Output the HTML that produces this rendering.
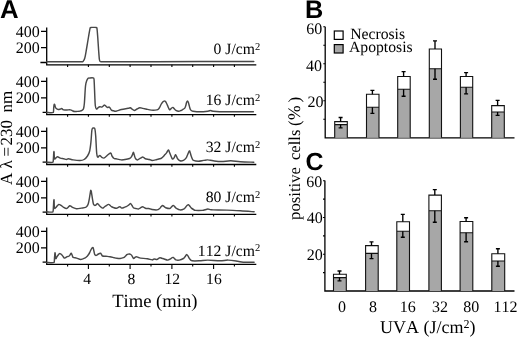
<!DOCTYPE html>
<html><head><meta charset="utf-8"><title>Figure</title>
<style>html,body{margin:0;padding:0;background:#fff;overflow:hidden;}svg{display:block;font-kerning:none;will-change:transform;}text{font-kerning:none;text-rendering:geometricPrecision;}</style>
</head><body>
<svg width="520" height="338" viewBox="0 0 520 338">
<rect width="520" height="338" fill="#fff"/>
<g font-family="Liberation Sans, sans-serif" font-weight="bold" font-size="25.3" fill="#000">
<text x="0.1" y="17.5" font-size="25.8">A</text>
<text x="305.1" y="17.5">B</text>
<text x="305.4" y="169.9" font-size="24.9">C</text>
</g>
<g stroke="#000" stroke-width="1.3" fill="none">
<path d="M46.7,27.4 V64.8 H256.3"/>
<path d="M41.0,31.3 H46.7 M41.0,47.7 H46.7 M40.4,62.5 H46.7"/>
<path d="M67.6,64.8 v2.2 M88.4,64.8 v2.2 M109.3,64.8 v2.2 M130.1,64.8 v2.2 M151.0,64.8 v2.2 M171.9,64.8 v2.2 M192.7,64.8 v2.2 M213.6,64.8 v2.2 M234.4,64.8 v2.2 " stroke-width="1.1"/>
<path d="M46.7,77.5 V114.6 H256.3"/>
<path d="M41.0,81.4 H46.7 M41.0,97.8 H46.7 M42.6,112.3 H46.7"/>
<path d="M67.6,114.6 v2.2 M88.4,114.6 v2.2 M109.3,114.6 v2.2 M130.1,114.6 v2.2 M151.0,114.6 v2.2 M171.9,114.6 v2.2 M192.7,114.6 v2.2 M213.6,114.6 v2.2 M234.4,114.6 v2.2 " stroke-width="1.1"/>
<path d="M46.7,127.5 V164.5 H256.3"/>
<path d="M41.0,131.4 H46.7 M41.0,147.8 H46.7 M42.6,162.2 H46.7"/>
<path d="M67.6,164.5 v2.2 M88.4,164.5 v2.2 M109.3,164.5 v2.2 M130.1,164.5 v2.2 M151.0,164.5 v2.2 M171.9,164.5 v2.2 M192.7,164.5 v2.2 M213.6,164.5 v2.2 M234.4,164.5 v2.2 " stroke-width="1.1"/>
<path d="M46.7,177.5 V214.4 H256.3"/>
<path d="M41.0,181.4 H46.7 M41.0,197.8 H46.7 M42.6,212.1 H46.7"/>
<path d="M67.6,214.4 v2.2 M88.4,214.4 v2.2 M109.3,214.4 v2.2 M130.1,214.4 v2.2 M151.0,214.4 v2.2 M171.9,214.4 v2.2 M192.7,214.4 v2.2 M213.6,214.4 v2.2 M234.4,214.4 v2.2 " stroke-width="1.1"/>
<path d="M46.7,227.5 V264.4 H256.3"/>
<path d="M41.0,231.4 H46.7 M41.0,247.8 H46.7 M42.6,262.1 H46.7"/>
<path d="M67.6,264.4 v2.2 M88.4,264.4 v4.6 M109.3,264.4 v2.2 M130.1,264.4 v4.6 M151.0,264.4 v2.2 M171.9,264.4 v4.6 M192.7,264.4 v2.2 M213.6,264.4 v4.6 M234.4,264.4 v2.2 " stroke-width="1.1"/>
</g>
<g stroke="#484848" stroke-width="1.45" fill="none" stroke-linejoin="round" stroke-linecap="round">
<path d="M46.70,61.80 C52.42,61.80 74.92,61.90 81.00,61.80 C83.20,61.70 82.57,61.83 83.20,61.20 C83.83,60.57 84.25,60.03 84.80,58.00 C85.35,55.97 85.88,52.50 86.50,49.00 C87.12,45.50 87.92,40.40 88.50,37.00 C89.08,33.60 89.63,30.18 90.00,28.60 C90.37,27.02 90.43,27.70 90.70,27.50 C90.97,27.30 90.82,27.42 91.60,27.40 C92.38,27.38 94.62,27.38 95.40,27.40 C96.18,27.42 96.03,27.30 96.30,27.50 C96.57,27.70 96.75,26.85 97.00,28.60 C97.25,30.35 97.53,34.43 97.80,38.00 C98.07,41.57 98.33,46.42 98.60,50.00 C98.87,53.58 99.12,57.58 99.40,59.50 C99.68,61.42 99.95,61.12 100.30,61.50 C100.65,61.88 100.30,61.77 101.50,61.80 C109.78,61.83 133.58,61.75 150.00,61.70 C166.42,61.65 182.70,61.55 200.00,61.50 C217.30,61.45 244.83,61.42 253.80,61.40"/>
<path d="M46.70,112.40 C47.80,112.40 52.13,113.13 53.30,112.40 C53.70,111.67 53.57,109.30 53.70,108.00 C53.83,106.70 53.93,105.17 54.10,104.60 C54.27,104.03 54.50,104.20 54.70,104.60 C54.90,105.00 55.05,106.35 55.30,107.00 C55.55,107.65 55.70,108.08 56.20,108.50 C56.70,108.92 57.67,109.38 58.30,109.50 C58.93,109.62 59.43,109.37 60.00,109.20 C60.57,109.03 61.25,108.48 61.70,108.50 C62.15,108.52 62.37,109.07 62.70,109.30 C63.03,109.53 62.98,109.80 63.70,109.90 C64.42,110.00 65.87,109.90 67.00,109.90 C68.13,109.90 69.58,109.75 70.50,109.90 C71.42,110.05 71.82,110.53 72.50,110.80 C73.18,111.07 73.85,111.40 74.60,111.50 C75.35,111.60 76.10,111.47 77.00,111.40 C77.90,111.33 79.17,111.27 80.00,111.10 C80.83,110.93 81.42,110.78 82.00,110.40 C82.58,110.02 83.10,110.03 83.50,108.80 C83.90,107.57 84.07,106.80 84.40,103.00 C84.73,99.20 85.10,89.75 85.50,86.00 C85.90,82.25 86.35,81.80 86.80,80.50 C87.25,79.20 87.85,78.60 88.20,78.20 C88.55,77.80 88.20,78.12 88.90,78.10 C89.82,78.08 92.82,77.45 93.70,78.10 C94.20,78.75 94.02,79.02 94.20,82.00 C94.38,84.98 94.62,92.08 94.80,96.00 C94.98,99.92 95.03,103.33 95.30,105.50 C95.57,107.67 95.95,108.62 96.40,109.00 C96.85,109.38 97.43,108.18 98.00,107.80 C98.57,107.42 99.17,106.82 99.80,106.70 C100.43,106.58 101.23,107.22 101.80,107.10 C102.37,106.98 102.73,106.33 103.20,106.00 C103.67,105.67 104.13,105.05 104.60,105.10 C105.07,105.15 105.55,105.92 106.00,106.30 C106.45,106.68 106.75,107.27 107.30,107.40 C107.85,107.53 108.80,106.93 109.30,107.10 C109.80,107.27 109.95,107.90 110.30,108.40 C110.65,108.90 110.87,109.70 111.40,110.10 C111.93,110.50 112.73,110.62 113.50,110.80 C114.27,110.98 114.68,111.42 116.00,111.20 C117.32,110.98 119.58,109.95 121.40,109.50 C123.22,109.05 125.63,108.72 126.90,108.50 C128.17,108.28 128.43,108.33 129.00,108.20 C129.57,108.07 129.80,107.57 130.30,107.70 C130.80,107.83 131.32,108.55 132.00,109.00 C132.68,109.45 133.57,110.40 134.40,110.40 C135.23,110.40 136.10,109.45 137.00,109.00 C137.90,108.55 138.80,107.80 139.80,107.70 C140.80,107.60 141.97,108.18 143.00,108.40 C144.03,108.62 144.60,108.72 146.00,109.00 C147.40,109.28 149.58,109.95 151.40,110.10 C153.22,110.25 155.72,110.08 156.90,109.90 C158.08,109.72 158.05,109.42 158.50,109.00 C158.95,108.58 159.13,108.23 159.60,107.40 C160.07,106.57 160.73,104.95 161.30,104.00 C161.87,103.05 162.52,102.18 163.00,101.70 C163.48,101.22 163.82,101.17 164.20,101.10 C164.58,101.03 164.93,100.98 165.30,101.30 C165.67,101.62 166.03,102.32 166.40,103.00 C166.77,103.68 167.13,104.57 167.50,105.40 C167.87,106.23 168.22,107.25 168.60,108.00 C168.98,108.75 169.33,109.85 169.80,109.90 C170.27,109.95 170.88,108.72 171.40,108.30 C171.92,107.88 172.42,107.32 172.90,107.40 C173.38,107.48 173.80,108.30 174.30,108.80 C174.80,109.30 175.18,110.00 175.90,110.40 C176.62,110.80 177.75,111.18 178.60,111.20 C179.45,111.22 180.32,110.78 181.00,110.50 C181.68,110.22 182.07,109.90 182.70,109.50 C183.33,109.10 184.28,108.77 184.80,108.10 C185.32,107.43 185.50,106.47 185.80,105.50 C186.10,104.53 186.30,103.07 186.60,102.30 C186.90,101.53 187.32,100.90 187.60,100.90 C187.88,100.90 188.07,101.67 188.30,102.30 C188.53,102.93 188.77,103.83 189.00,104.70 C189.23,105.57 189.47,106.70 189.70,107.50 C189.93,108.30 190.10,108.97 190.40,109.50 C190.70,110.03 191.10,110.42 191.50,110.70 C191.90,110.98 191.50,111.02 192.80,111.20 C194.15,111.38 197.10,111.80 199.60,111.80 C202.10,111.80 205.98,111.42 207.80,111.20 C209.62,110.98 209.60,110.50 210.50,110.50 C211.40,110.50 210.50,110.98 213.20,111.20 C215.93,111.42 220.20,111.70 226.90,111.80 C233.60,111.90 248.98,111.80 253.40,111.80"/>
<path d="M46.70,162.20 C47.73,162.20 51.78,162.77 52.90,162.20 C53.40,161.63 53.25,160.43 53.40,158.80 C53.55,157.17 53.68,153.47 53.80,152.40 C53.92,151.33 53.98,151.33 54.10,152.40 C54.22,153.47 54.15,157.92 54.50,158.80 C54.85,159.68 55.68,158.05 56.20,157.70 C56.72,157.35 56.92,156.63 57.60,156.70 C58.28,156.77 59.28,157.75 60.30,158.10 C61.32,158.45 62.68,158.57 63.70,158.80 C64.72,159.03 65.60,159.50 66.40,159.50 C67.20,159.50 67.37,158.73 68.50,158.80 C69.63,158.87 71.28,159.62 73.20,159.90 C75.12,160.18 78.18,160.57 80.00,160.50 C81.82,160.43 82.85,160.25 84.10,159.50 C85.35,158.75 86.58,157.37 87.50,156.00 C88.42,154.63 89.03,153.57 89.60,151.30 C90.17,149.03 90.53,145.82 90.90,142.40 C91.27,138.98 91.52,133.15 91.80,130.80 C92.08,128.45 92.37,128.77 92.60,128.30 C92.83,127.83 92.90,128.03 93.20,128.00 C93.50,127.97 94.10,127.85 94.40,128.10 C94.70,128.35 94.78,128.18 95.00,129.50 C95.22,130.82 95.42,132.03 95.70,136.00 C95.98,139.97 96.37,149.78 96.70,153.30 C97.03,156.82 97.35,156.62 97.70,157.10 C98.05,157.58 98.45,156.48 98.80,156.20 C99.15,155.92 99.47,155.38 99.80,155.40 C100.13,155.42 100.47,155.97 100.80,156.30 C101.13,156.63 101.28,157.10 101.80,157.40 C102.32,157.70 103.33,158.13 103.90,158.10 C104.47,158.07 104.75,157.55 105.20,157.20 C105.65,156.85 105.98,156.53 106.60,156.00 C107.22,155.47 108.22,154.50 108.90,154.00 C109.58,153.50 110.28,152.95 110.70,153.00 C111.12,153.05 111.18,153.80 111.40,154.30 C111.62,154.80 111.55,155.30 112.00,156.00 C112.45,156.70 113.43,158.03 114.10,158.50 C114.77,158.97 114.78,158.57 116.00,158.80 C117.22,159.03 119.47,159.87 121.40,159.90 C123.33,159.93 126.25,159.23 127.60,159.00 C128.95,158.77 128.93,158.77 129.50,158.50 C130.07,158.23 130.53,157.98 131.00,157.40 C131.47,156.82 131.90,155.87 132.30,155.00 C132.70,154.13 133.07,152.20 133.40,152.20 C133.73,152.20 133.98,154.02 134.30,155.00 C134.62,155.98 134.83,157.28 135.30,158.10 C135.77,158.92 136.52,159.72 137.10,159.90 C137.68,160.08 138.23,159.50 138.80,159.20 C139.37,158.90 139.80,158.45 140.50,158.10 C141.20,157.75 142.20,156.98 143.00,157.10 C143.80,157.22 144.23,158.40 145.30,158.80 C146.37,159.20 148.27,159.22 149.40,159.50 C150.53,159.78 150.85,160.50 152.10,160.50 C153.35,160.50 155.43,159.83 156.90,159.50 C158.37,159.17 159.95,158.88 160.90,158.50 C161.85,158.12 162.03,157.72 162.60,157.20 C163.17,156.68 163.62,156.17 164.30,155.40 C164.98,154.63 166.02,153.52 166.70,152.60 C167.38,151.68 167.97,150.03 168.40,149.90 C168.83,149.77 169.00,151.12 169.30,151.80 C169.60,152.48 169.85,153.13 170.20,154.00 C170.55,154.87 171.02,156.17 171.40,157.00 C171.78,157.83 172.08,158.82 172.50,159.00 C172.92,159.18 173.52,158.57 173.90,158.10 C174.28,157.63 174.52,156.77 174.80,156.20 C175.08,155.63 175.30,154.65 175.60,154.70 C175.90,154.75 176.27,155.82 176.60,156.50 C176.93,157.18 177.03,158.08 177.60,158.80 C178.17,159.52 179.03,160.53 180.00,160.80 C180.97,161.07 182.40,160.85 183.40,160.40 C184.40,159.95 185.30,159.05 186.00,158.10 C186.70,157.15 187.03,155.90 187.60,154.70 C188.17,153.50 188.95,151.18 189.40,150.90 C189.85,150.62 190.00,152.15 190.30,153.00 C190.60,153.85 190.87,155.03 191.20,156.00 C191.53,156.97 191.92,158.07 192.30,158.80 C192.68,159.53 192.50,160.00 193.50,160.40 C194.50,160.80 196.60,161.20 198.30,161.20 C200.00,161.20 202.12,160.62 203.70,160.40 C205.28,160.18 206.22,159.83 207.80,159.90 C209.38,159.97 210.93,160.53 213.20,160.80 C215.47,161.07 218.45,161.50 221.40,161.50 C224.35,161.50 227.72,160.75 230.90,160.80 C234.08,160.85 236.68,161.57 240.50,161.80 C244.32,162.03 251.58,162.13 253.80,162.20"/>
<path d="M46.70,211.80 C47.73,211.80 51.78,212.53 52.90,211.80 C53.40,211.07 53.25,209.28 53.40,207.40 C53.55,205.52 53.68,201.65 53.80,200.50 C53.92,199.35 53.98,199.23 54.10,200.50 C54.22,201.77 54.15,207.00 54.50,208.10 C54.85,209.20 55.70,207.52 56.20,207.10 C56.70,206.68 57.05,206.05 57.50,205.60 C57.95,205.15 58.32,204.43 58.90,204.40 C59.48,204.37 60.20,204.90 61.00,205.40 C61.80,205.90 62.80,206.88 63.70,207.40 C64.60,207.92 65.65,208.53 66.40,208.50 C67.15,208.47 67.63,207.65 68.20,207.20 C68.77,206.75 69.30,205.93 69.80,205.80 C70.30,205.67 70.73,206.13 71.20,206.40 C71.67,206.67 71.70,207.00 72.60,207.40 C73.50,207.80 75.13,208.68 76.60,208.80 C78.07,208.92 79.92,208.33 81.40,208.10 C82.88,207.87 84.57,207.72 85.50,207.40 C86.43,207.08 86.55,206.77 87.00,206.20 C87.45,205.63 87.85,205.03 88.20,204.00 C88.55,202.97 88.82,201.47 89.10,200.00 C89.38,198.53 89.65,196.70 89.90,195.20 C90.15,193.70 90.43,191.80 90.60,191.00 C90.77,190.20 90.78,190.32 90.90,190.40 C91.02,190.48 91.07,190.25 91.30,191.50 C91.53,192.75 92.02,196.15 92.30,197.90 C92.58,199.65 92.77,200.87 93.00,202.00 C93.23,203.13 93.32,204.13 93.70,204.70 C94.08,205.27 94.83,205.47 95.30,205.40 C95.77,205.33 96.13,204.60 96.50,204.30 C96.87,204.00 97.15,203.55 97.50,203.60 C97.85,203.65 98.22,204.20 98.60,204.60 C98.98,205.00 99.15,205.42 99.80,206.00 C100.45,206.58 101.75,207.93 102.50,208.10 C103.25,208.27 103.73,207.38 104.30,207.00 C104.87,206.62 105.18,206.23 105.90,205.80 C106.62,205.37 107.92,204.48 108.60,204.40 C109.28,204.32 109.53,204.92 110.00,205.30 C110.47,205.68 110.82,206.32 111.40,206.70 C111.98,207.08 112.73,207.33 113.50,207.60 C114.27,207.87 115.25,208.30 116.00,208.30 C116.75,208.30 117.37,207.87 118.00,207.60 C118.63,207.33 119.18,206.62 119.80,206.70 C120.42,206.78 121.00,207.97 121.70,208.10 C122.40,208.23 123.25,207.73 124.00,207.50 C124.75,207.27 125.45,207.08 126.20,206.70 C126.95,206.32 127.75,205.72 128.50,205.20 C129.25,204.68 130.12,203.55 130.70,203.60 C131.28,203.65 131.55,204.82 132.00,205.50 C132.45,206.18 132.77,207.20 133.40,207.70 C134.03,208.20 134.95,208.28 135.80,208.50 C136.65,208.72 137.72,209.12 138.50,209.00 C139.28,208.88 139.82,208.18 140.50,207.80 C141.18,207.42 141.97,206.72 142.60,206.70 C143.23,206.68 143.73,207.40 144.30,207.70 C144.87,208.00 145.27,208.37 146.00,208.50 C146.73,208.63 147.68,208.33 148.70,208.50 C149.72,208.67 150.73,209.27 152.10,209.50 C153.47,209.73 155.65,210.07 156.90,209.90 C158.15,209.73 158.88,209.05 159.60,208.50 C160.32,207.95 160.70,207.12 161.20,206.60 C161.70,206.08 162.10,205.40 162.60,205.40 C163.10,205.40 163.68,206.22 164.20,206.60 C164.72,206.98 164.77,207.38 165.70,207.70 C166.63,208.02 168.82,208.65 169.80,208.50 C170.78,208.35 171.03,207.32 171.60,206.80 C172.17,206.28 172.65,205.38 173.20,205.40 C173.75,205.42 174.33,206.38 174.90,206.90 C175.47,207.42 175.75,208.00 176.60,208.50 C177.45,209.00 178.75,209.85 180.00,209.90 C181.25,209.95 183.10,209.33 184.10,208.80 C185.10,208.27 185.47,207.28 186.00,206.70 C186.53,206.12 186.88,205.63 187.30,205.30 C187.72,204.97 188.07,204.53 188.50,204.70 C188.93,204.87 189.42,205.73 189.90,206.30 C190.38,206.87 190.80,207.57 191.40,208.10 C192.00,208.63 192.82,209.12 193.50,209.50 C194.18,209.88 194.03,210.25 195.50,210.40 C196.97,210.55 200.72,210.50 202.30,210.40 C203.88,210.30 204.08,210.03 205.00,209.80 C205.92,209.57 206.88,209.03 207.80,209.00 C208.72,208.97 209.60,209.45 210.50,209.60 C211.40,209.75 210.50,209.82 213.20,209.90 C215.93,209.98 222.35,209.95 226.90,210.10 C231.45,210.25 235.97,210.52 240.50,210.80 C245.03,211.08 251.83,211.63 254.10,211.80"/>
<path d="M46.70,262.40 C47.93,262.40 52.80,263.12 54.10,262.40 C54.50,261.68 54.37,259.60 54.50,258.10 C54.63,256.60 54.78,254.18 54.90,253.40 C55.02,252.62 55.05,252.55 55.20,253.40 C55.35,254.25 55.55,257.87 55.80,258.50 C56.05,259.13 56.40,257.65 56.70,257.20 C57.00,256.75 57.28,256.27 57.60,255.80 C57.92,255.33 58.27,254.77 58.60,254.40 C58.93,254.03 59.27,253.68 59.60,253.60 C59.93,253.52 60.25,253.72 60.60,253.90 C60.95,254.08 61.30,254.28 61.70,254.70 C62.10,255.12 62.55,255.83 63.00,256.40 C63.45,256.97 63.93,257.92 64.40,258.10 C64.87,258.28 65.35,257.73 65.80,257.50 C66.25,257.27 66.53,256.95 67.10,256.70 C67.67,256.45 68.67,256.37 69.20,256.00 C69.73,255.63 69.97,254.95 70.30,254.50 C70.63,254.05 70.88,253.18 71.20,253.30 C71.52,253.42 71.87,254.52 72.20,255.20 C72.53,255.88 72.47,256.92 73.20,257.40 C73.93,257.88 75.35,257.75 76.60,258.10 C77.85,258.45 79.33,259.50 80.70,259.50 C82.07,259.50 83.75,258.62 84.80,258.10 C85.85,257.58 86.32,257.08 87.00,256.40 C87.68,255.72 88.35,254.87 88.90,254.00 C89.45,253.13 89.85,252.10 90.30,251.20 C90.75,250.30 91.15,249.20 91.60,248.60 C92.05,248.00 92.62,247.20 93.00,247.60 C93.38,248.00 93.60,249.82 93.90,251.00 C94.20,252.18 94.38,253.97 94.80,254.70 C95.22,255.43 95.80,255.52 96.40,255.40 C97.00,255.28 97.72,254.35 98.40,254.00 C99.08,253.65 99.98,253.22 100.50,253.30 C101.02,253.38 101.17,254.05 101.50,254.50 C101.83,254.95 101.77,255.70 102.50,256.00 C103.23,256.30 104.65,256.18 105.90,256.30 C107.15,256.42 108.63,256.47 110.00,256.70 C111.37,256.93 113.10,257.47 114.10,257.70 C115.10,257.93 115.00,257.97 116.00,258.10 C117.00,258.23 118.85,258.57 120.10,258.50 C121.35,258.43 122.63,258.07 123.50,257.70 C124.37,257.33 124.73,256.80 125.30,256.30 C125.87,255.80 126.40,255.07 126.90,254.70 C127.40,254.33 127.85,254.22 128.30,254.10 C128.75,253.98 129.20,253.93 129.60,254.00 C130.00,254.07 130.35,254.27 130.70,254.50 C131.05,254.73 131.37,254.97 131.70,255.40 C132.03,255.83 132.37,256.58 132.70,257.10 C133.03,257.62 133.32,258.45 133.70,258.50 C134.08,258.55 134.55,257.70 135.00,257.40 C135.45,257.10 135.82,256.68 136.40,256.70 C136.98,256.72 137.82,257.27 138.50,257.50 C139.18,257.73 139.03,257.88 140.50,258.10 C141.97,258.32 145.37,258.50 147.30,258.80 C149.23,259.10 150.97,259.87 152.10,259.90 C153.23,259.93 153.30,259.07 154.10,259.00 C154.90,258.93 156.17,259.58 156.90,259.50 C157.63,259.42 158.00,258.80 158.50,258.50 C159.00,258.20 159.35,257.75 159.90,257.70 C160.45,257.65 161.17,258.02 161.80,258.20 C162.43,258.38 162.70,258.48 163.70,258.80 C164.70,259.12 166.67,260.10 167.80,260.10 C168.93,260.10 169.82,259.18 170.50,258.80 C171.18,258.42 171.45,258.03 171.90,257.80 C172.35,257.57 172.77,257.28 173.20,257.40 C173.63,257.52 174.05,258.08 174.50,258.50 C174.95,258.92 175.10,259.63 175.90,259.90 C176.70,260.17 178.05,260.33 179.30,260.10 C180.55,259.87 182.45,259.05 183.40,258.50 C184.35,257.95 184.57,257.35 185.00,256.80 C185.43,256.25 185.72,255.57 186.00,255.20 C186.28,254.83 186.43,254.57 186.70,254.60 C186.97,254.63 187.27,254.95 187.60,255.40 C187.93,255.85 188.33,256.70 188.70,257.30 C189.07,257.90 189.23,258.42 189.80,259.00 C190.37,259.58 190.47,260.50 192.10,260.80 C193.73,261.10 196.98,260.92 199.60,260.80 C202.22,260.68 204.40,260.10 207.80,260.10 C211.20,260.10 216.60,260.80 220.00,260.80 C223.40,260.80 225.25,260.03 228.20,260.10 C231.15,260.17 235.20,260.85 237.70,261.20 C240.20,261.55 240.47,262.03 243.20,262.20 C245.93,262.37 252.28,262.20 254.10,262.20"/>
</g>
<g font-family="Liberation Serif, serif" font-size="16" fill="#000" text-anchor="end">
<text x="39.8" y="36.6">400</text>
<text x="39.8" y="52.7">200</text>
<text x="39.8" y="86.7">400</text>
<text x="39.8" y="102.8">200</text>
<text x="39.8" y="136.7">400</text>
<text x="39.8" y="152.8">200</text>
<text x="39.8" y="186.7">400</text>
<text x="39.8" y="202.8">200</text>
<text x="39.8" y="236.7">400</text>
<text x="39.8" y="252.8">200</text>
</g>
<g font-family="Liberation Serif, serif" font-size="15.7" fill="#000" text-anchor="end">
<text x="260.2" y="53.9">0 J/cm<tspan font-size="10.5" dy="-4.2">2</tspan></text>
<text x="260.2" y="104.8">16 J/cm<tspan font-size="10.5" dy="-4.2">2</tspan></text>
<text x="260.2" y="151.9">32 J/cm<tspan font-size="10.5" dy="-4.2">2</tspan></text>
<text x="260.2" y="202.3">80 J/cm<tspan font-size="10.5" dy="-4.2">2</tspan></text>
<text x="260.2" y="255.5">112 J/cm<tspan font-size="10.5" dy="-4.2">2</tspan></text>
</g>
<g font-family="Liberation Serif, serif" font-size="15.6" fill="#000" text-anchor="middle">
<text x="87.2" y="283.6">4</text>
<text x="131.3" y="283.6">8</text>
<text x="172.2" y="283.6">12</text>
<text x="213.9" y="283.6">16</text>
</g>
<text font-family="Liberation Serif, serif" font-size="18.6" x="112.2" y="306.5" fill="#000">Time (min)</text>
<g font-family="Liberation Serif, serif" font-size="17" fill="#000" transform="translate(12.4,184.4) rotate(-90)"><text x="-0.6" y="0">A</text><text x="15.8" y="0">λ</text><text x="28.0" y="0">=</text><text x="39.0" y="0">230</text><text x="71.9" y="0">nm</text></g>
<g stroke="#000" stroke-width="1.3" fill="none">
<path d="M325.2,26.8 V137.8 H514.5"/>
<path d="M325.2,119.3 h-1.9 M325.2,100.8 h-1.9 M325.2,82.3 h-1.9 M325.2,63.8 h-1.9 M325.2,45.3 h-1.9 M325.2,26.8 h-1.9 " stroke-width="1.1"/>
</g>
<rect x="334.7" y="124.6" width="12.6" height="13.2" fill="#a7a7a7"/>
<rect x="334.7" y="121.6" width="12.6" height="3.0" fill="#fff"/>
<path d="M334.7,137.8 V121.6 H347.3 V137.8 M334.7,124.6 H347.3" stroke="#111" stroke-width="1.1" fill="none"/>
<path d="M340.6,121.6 V117.5 M338.6,117.5 h4.0 M340.6,124.6 V127.8 M338.6,127.8 h4.0" stroke="#000" stroke-width="1.35" fill="none"/>
<rect x="366.5" y="107.2" width="12.5" height="30.6" fill="#a7a7a7"/>
<rect x="366.5" y="94.3" width="12.5" height="12.9" fill="#fff"/>
<path d="M366.5,137.8 V94.3 H379.0 V137.8 M366.5,107.2 H379.0" stroke="#111" stroke-width="1.1" fill="none"/>
<path d="M372.4,94.3 V90.3 M370.4,90.3 h4.0 M372.4,107.2 V113.3 M370.4,113.3 h4.0" stroke="#000" stroke-width="1.35" fill="none"/>
<rect x="397.7" y="89.2" width="12.5" height="48.6" fill="#a7a7a7"/>
<rect x="397.7" y="76.5" width="12.5" height="12.7" fill="#fff"/>
<path d="M397.7,137.8 V76.5 H410.2 V137.8 M397.7,89.2 H410.2" stroke="#111" stroke-width="1.1" fill="none"/>
<path d="M403.6,76.5 V71.6 M401.6,71.6 h4.0 M403.6,89.2 V96.2 M401.6,96.2 h4.0" stroke="#000" stroke-width="1.35" fill="none"/>
<rect x="429.3" y="68.7" width="12.2" height="69.1" fill="#a7a7a7"/>
<rect x="429.3" y="49.0" width="12.2" height="19.7" fill="#fff"/>
<path d="M429.3,137.8 V49.0 H441.5 V137.8 M429.3,68.7 H441.5" stroke="#111" stroke-width="1.1" fill="none"/>
<path d="M435.0,49.0 V40.8 M433.0,40.8 h4.0 M435.0,68.7 V79.2 M433.0,79.2 h4.0" stroke="#000" stroke-width="1.35" fill="none"/>
<rect x="460.4" y="87.3" width="12.3" height="50.5" fill="#a7a7a7"/>
<rect x="460.4" y="76.5" width="12.3" height="10.8" fill="#fff"/>
<path d="M460.4,137.8 V76.5 H472.7 V137.8 M460.4,87.3 H472.7" stroke="#111" stroke-width="1.1" fill="none"/>
<path d="M466.1,76.5 V72.6 M464.1,72.6 h4.0 M466.1,87.3 V93.9 M464.1,93.9 h4.0" stroke="#000" stroke-width="1.35" fill="none"/>
<rect x="491.7" y="112.0" width="12.6" height="25.8" fill="#a7a7a7"/>
<rect x="491.7" y="105.6" width="12.6" height="6.4" fill="#fff"/>
<path d="M491.7,137.8 V105.6 H504.3 V137.8 M491.7,112.0 H504.3" stroke="#111" stroke-width="1.1" fill="none"/>
<path d="M497.6,105.6 V100.3 M495.6,100.3 h4.0 M497.6,112.0 V115.4 M495.6,115.4 h4.0" stroke="#000" stroke-width="1.35" fill="none"/>
<g stroke="#000" stroke-width="1.3" fill="none">
<path d="M324.9,180.6 V291.0 H514.5"/>
<path d="M324.9,272.6 h-1.9 M324.9,254.2 h-1.9 M324.9,235.9 h-1.9 M324.9,217.5 h-1.9 M324.9,199.1 h-1.9 M324.9,180.7 h-1.9 " stroke-width="1.1"/>
</g>
<rect x="333.5" y="277.6" width="12.8" height="13.4" fill="#a7a7a7"/>
<rect x="333.5" y="274.3" width="12.8" height="3.3" fill="#fff"/>
<path d="M333.5,291.0 V274.3 H346.3 V291.0 M333.5,277.6 H346.3" stroke="#111" stroke-width="1.1" fill="none"/>
<path d="M339.5,274.3 V271.0 M337.5,271.0 h4.0 M339.5,277.6 V280.9 M337.5,280.9 h4.0" stroke="#000" stroke-width="1.35" fill="none"/>
<rect x="365.6" y="253.4" width="12.6" height="37.6" fill="#a7a7a7"/>
<rect x="365.6" y="245.6" width="12.6" height="7.8" fill="#fff"/>
<path d="M365.6,291.0 V245.6 H378.2 V291.0 M365.6,253.4 H378.2" stroke="#111" stroke-width="1.1" fill="none"/>
<path d="M371.5,245.6 V241.8 M369.5,241.8 h4.0 M371.5,253.4 V258.6 M369.5,258.6 h4.0" stroke="#000" stroke-width="1.35" fill="none"/>
<rect x="396.8" y="231.3" width="12.7" height="59.7" fill="#a7a7a7"/>
<rect x="396.8" y="221.8" width="12.7" height="9.5" fill="#fff"/>
<path d="M396.8,291.0 V221.8 H409.5 V291.0 M396.8,231.3 H409.5" stroke="#111" stroke-width="1.1" fill="none"/>
<path d="M402.8,221.8 V214.4 M400.8,214.4 h4.0 M402.8,231.3 V237.2 M400.8,237.2 h4.0" stroke="#000" stroke-width="1.35" fill="none"/>
<rect x="428.9" y="210.7" width="12.5" height="80.3" fill="#a7a7a7"/>
<rect x="428.9" y="195.1" width="12.5" height="15.6" fill="#fff"/>
<path d="M428.9,291.0 V195.1 H441.4 V291.0 M428.9,210.7 H441.4" stroke="#111" stroke-width="1.1" fill="none"/>
<path d="M434.8,195.1 V189.6 M432.8,189.6 h4.0 M434.8,210.7 V222.2 M432.8,222.2 h4.0" stroke="#000" stroke-width="1.35" fill="none"/>
<rect x="460.1" y="232.8" width="12.7" height="58.2" fill="#a7a7a7"/>
<rect x="460.1" y="221.5" width="12.7" height="11.3" fill="#fff"/>
<path d="M460.1,291.0 V221.5 H472.8 V291.0 M460.1,232.8 H472.8" stroke="#111" stroke-width="1.1" fill="none"/>
<path d="M466.1,221.5 V217.7 M464.1,217.7 h4.0 M466.1,232.8 V241.7 M464.1,241.7 h4.0" stroke="#000" stroke-width="1.35" fill="none"/>
<rect x="491.8" y="261.0" width="12.9" height="30.0" fill="#a7a7a7"/>
<rect x="491.8" y="253.8" width="12.9" height="7.2" fill="#fff"/>
<path d="M491.8,291.0 V253.8 H504.7 V291.0 M491.8,261.0 H504.7" stroke="#111" stroke-width="1.1" fill="none"/>
<path d="M497.9,253.8 V248.7 M495.9,248.7 h4.0 M497.9,261.0 V266.2 M495.9,266.2 h4.0" stroke="#000" stroke-width="1.35" fill="none"/>
<g font-family="Liberation Serif, serif" font-size="16" fill="#000" text-anchor="end">
<text x="322.2" y="33.5">60</text>
<text x="322.0" y="70.5">40</text>
<text x="323.4" y="107.3">20</text>
<text x="322.3" y="186.6">60</text>
<text x="322.7" y="223.2">40</text>
<text x="322.7" y="260.3">20</text>
</g>
<rect x="334.3" y="31.0" width="8.8" height="8.4" fill="#fff" stroke="#000" stroke-width="1.2"/>
<rect x="334.3" y="44.6" width="8.8" height="8.4" fill="#a7a7a7" stroke="#000" stroke-width="1.2"/>
<text font-family="Liberation Serif, serif" font-size="15.7" x="350.2" y="38.6" fill="#000">Necrosis</text>
<text font-family="Liberation Serif, serif" font-size="15.7" x="349.0" y="52.1" fill="#000">Apoptosis</text>
<g font-family="Liberation Serif, serif" font-size="16" fill="#000">
<text x="337.9" y="312.0">0</text>
<text x="368.9" y="312.0">8</text>
<text x="399.7" y="312.0">16</text>
<text x="432.0" y="312.0">32</text>
<text x="463.2" y="312.0">80</text>
<text x="493.5" y="312.0">112</text>
</g>
<text font-family="Liberation Serif, serif" font-size="18" x="380.0" y="332.5" fill="#000">UVA (J/cm<tspan font-size="12" dy="-5">2</tspan><tspan dy="5">)</tspan></text>
<g font-family="Liberation Serif, serif" font-size="16.7" fill="#000" transform="translate(300.3,217.5) rotate(-90)"><text x="-2.4" y="0">positive</text><text x="57.5" y="0" font-size="16.6">cells</text><text x="91.4" y="0" font-size="17">(</text><text x="97.6" y="0" font-size="17.6">%</text><text x="115" y="0" font-size="17">)</text></g>
</svg></body></html>
